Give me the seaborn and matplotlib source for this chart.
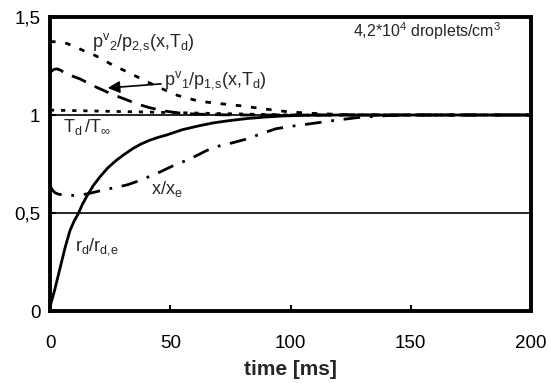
import numpy as np
import pandas as pd
import matplotlib
matplotlib.use("Agg")
import matplotlib.pyplot as plt
import seaborn as sns

# ---------------- data ----------------
t_p2 = [0, 4, 7, 10.5, 14.5, 18, 21, 26, 33, 37, 41.5, 46, 53, 62, 73, 80, 86, 93, 100,
        110, 120, 130, 200]
p2 = [1.375, 1.372, 1.365, 1.348, 1.325, 1.308, 1.29, 1.255, 1.215, 1.19, 1.163, 1.137,
      1.10, 1.07, 1.055, 1.046, 1.036, 1.025, 1.015, 1.008, 1.003, 1.0, 1.0]

t_p1 = [0, 1, 2, 3, 4.5, 6, 9, 12.5, 15.5, 18.7, 22, 25, 28.5, 32, 35, 38, 41.5, 45, 49.5,
        54, 60, 65, 72, 80, 200]
p1 = [1.215, 1.228, 1.234, 1.235, 1.228, 1.214, 1.2, 1.184, 1.165, 1.145, 1.127, 1.11,
      1.093, 1.077, 1.062, 1.05, 1.037, 1.027, 1.017, 1.01, 1.005, 1.003, 1.001, 1.0, 1.0]

t_td = [0, 20, 40, 60, 80, 100, 200]
td = [1.025, 1.02, 1.015, 1.01, 1.005, 1.0, 1.0]

t_x = [0, 0.5, 1, 2, 3.5, 5.5, 8, 10, 13, 16, 19.4, 22.5, 26.3, 29.5, 32.5, 35.5, 38.8,
       42, 45.7, 51, 57, 61.5, 65, 69, 75.5, 81, 85, 88.6, 94, 100, 108, 118, 128, 140,
       150, 200]
x = [0.645, 0.628, 0.617, 0.604, 0.596, 0.592, 0.59, 0.59, 0.592, 0.599, 0.609, 0.618,
     0.628, 0.636, 0.645, 0.658, 0.673, 0.69, 0.709, 0.74, 0.77, 0.796, 0.818, 0.838,
     0.857, 0.875, 0.892, 0.908, 0.93, 0.942, 0.955, 0.972, 0.987, 0.997, 1.0, 1.0]

t_r = [0, 0.15, 0.5, 1, 2, 3, 4, 5, 6, 7, 8.3, 10, 11.8, 13.5, 15.2, 18, 20.8, 24, 27.7,
       31, 34.6, 38, 41.6, 45, 48.5, 55, 62, 68, 75, 82, 90, 97, 105, 120, 200]
r = [0, 0.025, 0.045, 0.065, 0.11, 0.16, 0.21, 0.26, 0.31, 0.355, 0.41, 0.458, 0.498,
     0.545, 0.583, 0.64, 0.685, 0.73, 0.77, 0.80, 0.83, 0.853, 0.872, 0.886, 0.898, 0.925,
     0.945, 0.96, 0.972, 0.982, 0.99, 0.995, 0.998, 1.0, 1.0]

x_ticks = [0, 50, 100, 150, 200]
y_ticks = [0, 0.5, 1, 1.5]
y_ticklabels = ["0", "0,5", "1", "1,5"]

# ---------------- style ----------------
sns.set_style("ticks")
plt.rcParams["font.family"] = ["Liberation Sans", "DejaVu Sans"]
plt.rcParams["mathtext.fontset"] = "custom"
plt.rcParams["mathtext.rm"] = "Liberation Sans"
plt.rcParams["mathtext.it"] = "Liberation Sans:italic"
plt.rcParams["mathtext.bf"] = "Liberation Sans:bold"
plt.rcParams["lines.scale_dashes"] = False
plt.rcParams["lines.solid_joinstyle"] = "round"
plt.rcParams["lines.dash_joinstyle"] = "round"

fig = plt.figure(figsize=(5.48, 3.83), dpi=100)
ax = fig.add_axes([50 / 548, 1 - 311 / 383, (531 - 50) / 548, (311 - 17) / 383])

lw = 2.0
sns.lineplot(x=t_r, y=r, ax=ax, color="black", lw=lw, linestyle="-")
sns.lineplot(x=t_x, y=x, ax=ax, color="black", lw=lw, linestyle=(0, (12, 7, 2, 7)))
sns.lineplot(x=t_td, y=td, ax=ax, color="black", lw=lw, linestyle=(0, (3, 5)))
sns.lineplot(x=t_p1, y=p1, ax=ax, color="black", lw=lw, linestyle=(0, (11, 7)))
sns.lineplot(x=t_p2, y=p2, ax=ax, color="black", lw=lw, linestyle=(0, (4, 7)))

ax.set_xlim(0, 200)
ax.set_ylim(0, 1.5)
ax.set_xticks(x_ticks)
ax.set_xticklabels([str(v) for v in x_ticks])
ax.set_yticks(y_ticks)
ax.set_yticklabels(y_ticklabels)
ax.tick_params(direction="in", length=4, width=1.5, labelsize=13.5, colors="black")
ax.tick_params(axis="x", pad=17)
ax.tick_params(axis="y", pad=7)
ax.grid(axis="y", color="black", lw=1.2)
ax.set_axisbelow(False)
for s in ax.spines.values():
    s.set_visible(True)
    s.set_linewidth(2.8)
    s.set_color("black")

ax.set_xlabel("time [ms]", fontsize=15, fontweight="bold", labelpad=6)
ax.set_ylabel("")

# ---------------- annotations ----------------
fs = 13
ax.text(17.5, 1.37, r"$\mathregular{p^v{}_2/p_{2{,}s}(x{,}T_d)}$", fontsize=fs,
        va="center", ha="left")
ax.annotate(r"$\mathregular{p^v{}_1/p_{1{,}s}(x{,}T_d)}$", xy=(24, 1.138), xytext=(47.5, 1.18),
            fontsize=fs, va="center", ha="left",
            arrowprops=dict(arrowstyle="-|>", color="black", lw=1.2, mutation_scale=18,
                            shrinkA=0, shrinkB=0))
ax.text(5.5, 0.94, r"$\mathregular{T_d\,/T_\infty}$", fontsize=fs, va="center", ha="left")
ax.text(42, 0.62, r"$\mathregular{x/x_e}$", fontsize=fs, va="center", ha="left")
ax.text(10.5, 0.33, r"$\mathregular{r_d/r_{d{,}e}}$", fontsize=fs, va="center", ha="left")
ax.text(126, 1.43, r"4,2*10$^\mathregular{4}$ droplets/cm$^\mathregular{3}$", fontsize=11.5,
        va="center", ha="left")

fig.savefig("out.png", dpi=100)
